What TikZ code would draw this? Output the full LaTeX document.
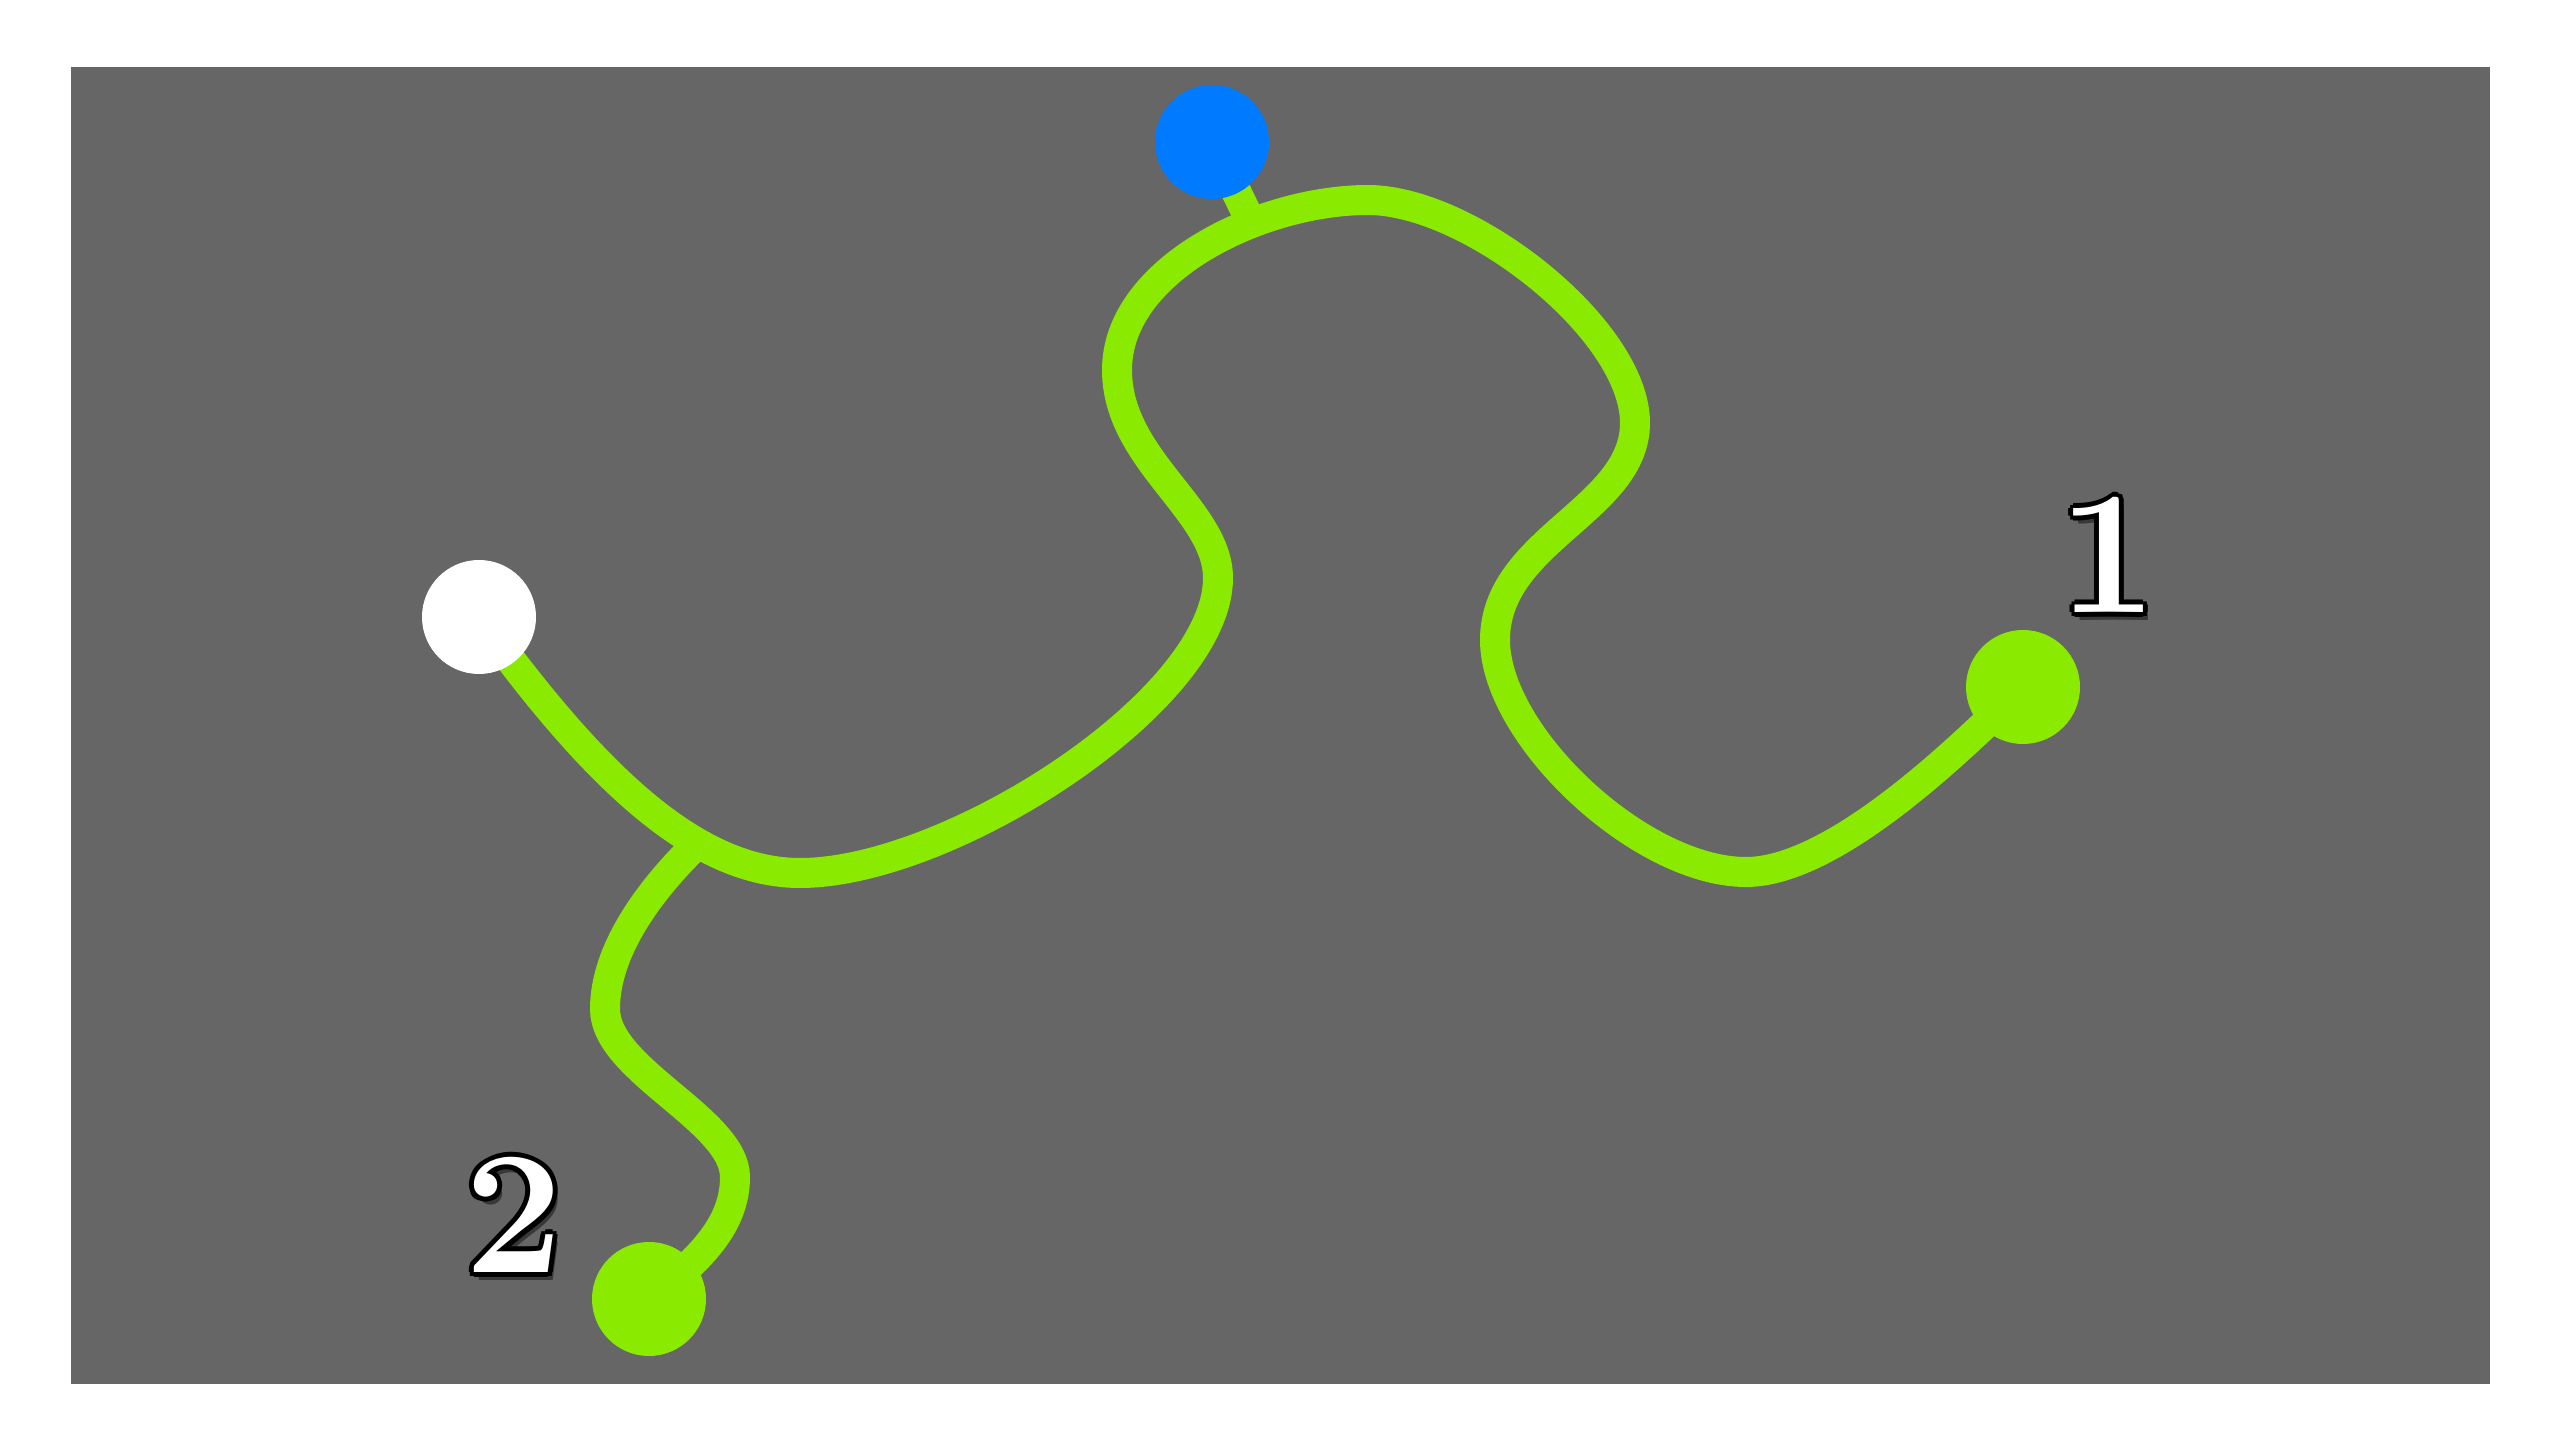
\documentclass[tikz,border=0pt]{standalone}
\usepackage{tikz}
\usetikzlibrary{calc, backgrounds}
\usepackage{xcolor}

\definecolor{wire}{RGB}{138,235,0}
\definecolor{hubblue}{RGB}{0,122,255}

\begin{document}
\begin{tikzpicture}[
    x=0.1mm, y=-0.1mm,
    dot/.style={circle, inner sep=0pt, minimum size=11.4mm},
    wirepath/.style={draw=wire, line width=3mm},
    tag/.style={inner sep=0pt, font=\fontsize{50pt}{60pt}\selectfont\bfseries}
]
    \useasboundingbox (0,0) rectangle (2560,1440);

    \node[dot, fill=white] (start) at (479,617) {};
    \node[dot, fill=hubblue] (hub) at (1212,142) {};
    \node[dot, fill=wire] (end1) at (2023,687) {};
    \node[dot, fill=wire] (end2) at (649,1299) {};

    \coordinate (fork) at (695,846);
    \coordinate (tap) at (1251,222);

    \begin{scope}[on background layer]
        \fill[black!60] (71,67) rectangle (2490,1384);
        % main wire
        \draw[wirepath] (start.center) .. controls (600,785) and (700,873) .. (800,873)
            .. controls (950,873) and (1218,700) .. (1218,578)
            .. controls (1218,510) and (1117,460) .. (1117,370)
            .. controls (1117,270) and (1260,200) .. (1368,200)
            .. controls (1470,200) and (1635,330) .. (1635,423)
            .. controls (1635,510) and (1495,540) .. (1495,640)
            .. controls (1495,735) and (1640,872) .. (1746,872)
            .. controls (1830,872) and (1950,760) .. (end1.center);
        % branch
        \draw[wirepath] (fork) .. controls (650,890) and (605,950) .. (605,1009)
            .. controls (605,1070) and (735,1120) .. (735,1177)
            .. controls (735,1225) and (700,1260) .. (end2.center);
        \draw[wirepath] (hub.center) -- (tap);
    \end{scope}

    % outlined numbers
    \coordinate (at1) at (2108,555);
    \coordinate (at2) at (514,1215);
    \node[tag, text=black, opacity=0.45] at ($(at1)+(5,8)$) {1};
    \node[tag, text=black, opacity=0.45] at ($(at2)+(5,8)$) {2};
    \foreach \a in {0,45,...,315} {
        \node[tag, text=black] at ($(at1)+(\a:5)$) {1};
        \node[tag, text=black] at ($(at2)+(\a:5)$) {2};
    }
    \node[tag, text=white] (num1) at (at1) {1};
    \node[tag, text=white] (num2) at (at2) {2};
\end{tikzpicture}
\end{document}
